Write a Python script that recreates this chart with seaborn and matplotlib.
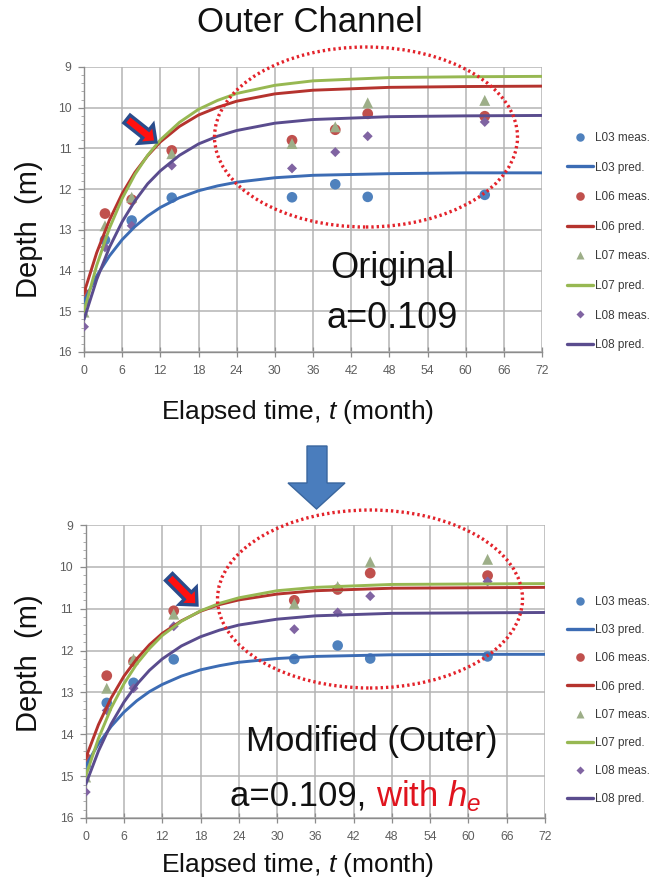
import matplotlib
matplotlib.use("Agg")
import matplotlib.pyplot as plt
from matplotlib.patches import Ellipse, Polygon
from matplotlib.lines import Line2D
from matplotlib.ticker import MultipleLocator
import numpy as np
import seaborn as sns

# ---- measured depths (m) at the four stations, shared by both panels ----
T_MEAS = [0, 3.3, 7.5, 13.8, 32.7, 39.5, 44.6, 63.0]
L03_MEAS = [14.75, 13.25, 12.77, 12.21, 12.20, 11.88, 12.19, 12.14]
L06_MEAS = [14.57, 12.60, 12.26, 11.05, 10.80, 10.54, 10.15, 10.21]
L07_MEAS = [15.02, 12.90, 12.20, 11.13, 10.88, 10.47, 9.88, 9.82]
L08_MEAS = [15.38, 13.43, 12.90, 11.42, 11.49, 11.09, 10.70, 10.35]

# ---- predicted depth curves (m) ----
T_PRED = [0, 2, 4, 6, 8, 10, 12, 15, 18, 21, 24, 30, 36, 48, 60, 72]

ORIG_L03 = [14.75, 14.13, 13.64, 13.24, 12.92, 12.66, 12.45, 12.21, 12.04, 11.92, 11.83, 11.72, 11.66, 11.62, 11.60, 11.60]
ORIG_L06 = [14.55, 13.56, 12.76, 12.11, 11.59, 11.18, 10.84, 10.46, 10.18, 9.99, 9.84, 9.66, 9.57, 9.50, 9.48, 9.47]
ORIG_L07 = [15.00, 13.87, 12.96, 12.23, 11.64, 11.17, 10.79, 10.36, 10.04, 9.82, 9.65, 9.45, 9.34, 9.26, 9.24, 9.23]
ORIG_L08 = [15.20, 14.22, 13.43, 12.80, 12.29, 11.87, 11.55, 11.17, 10.89, 10.70, 10.56, 10.38, 10.29, 10.22, 10.20, 10.19]

MOD_L03 = [14.75, 14.23, 13.81, 13.47, 13.20, 12.98, 12.81, 12.61, 12.46, 12.36, 12.28, 12.19, 12.14, 12.10, 12.09, 12.09]
MOD_L06 = [14.57, 13.77, 13.13, 12.61, 12.20, 11.86, 11.59, 11.29, 11.06, 10.90, 10.79, 10.65, 10.57, 10.51, 10.50, 10.49]
MOD_L07 = [15.00, 14.10, 13.37, 12.79, 12.32, 11.95, 11.64, 11.30, 11.05, 10.87, 10.74, 10.57, 10.49, 10.42, 10.41, 10.40]
MOD_L08 = [15.20, 14.40, 13.75, 13.23, 12.81, 12.47, 12.20, 11.89, 11.67, 11.51, 11.39, 11.25, 11.17, 11.11, 11.10, 11.09]

STATIONS = ["L03", "L06", "L07", "L08"]
X_TICKS = list(range(0, 73, 6))
Y_TICKS = list(range(9, 17))

MEAS = {"L03": L03_MEAS, "L06": L06_MEAS, "L07": L07_MEAS, "L08": L08_MEAS}
ORIG = {"L03": ORIG_L03, "L06": ORIG_L06, "L07": ORIG_L07, "L08": ORIG_L08}
MOD = {"L03": MOD_L03, "L06": MOD_L06, "L07": MOD_L07, "L08": MOD_L08}

MEAS_STYLE = {
    "L03": ("o", "#4F81BD", 58),
    "L06": ("o", "#C0504D", 60),
    "L07": ("^", "#9DAE88", 62),
    "L08": ("D", "#8064A2", 26),
}
PRED_COLOR = {"L03": "#3C6CB4", "L06": "#B5332E", "L07": "#97B852", "L08": "#5A4C8E"}

sns.set_theme(style="white")
plt.rcParams["font.family"] = ["Liberation Sans", "DejaVu Sans"]
plt.rcParams["mathtext.fontset"] = "custom"
plt.rcParams["mathtext.rm"] = "Liberation Sans"
plt.rcParams["mathtext.it"] = "Liberation Sans:italic"

W, H = 656, 886
fig = plt.figure(figsize=(W / 100, H / 100), dpi=100)
fig.patch.set_facecolor("white")

NARROW = ["Liberation Sans Narrow", "Liberation Sans", "DejaVu Sans"]


def fx(x):
    return x / W


def fy(y):
    return 1 - y / H


def draw_panel(rect, preds, legend_top, spacing):
    ax = fig.add_axes(rect)
    for st in STATIONS:
        marker, col, size = MEAS_STYLE[st]
        sns.scatterplot(x=T_MEAS, y=MEAS[st], marker=marker, s=size, color=col,
                        edgecolor="none", ax=ax, zorder=3, legend=False)
        sns.lineplot(x=T_PRED, y=preds[st], color=PRED_COLOR[st], lw=2.1,
                     ax=ax, zorder=4, legend=False)
    ax.set_xlim(0, 72)
    ax.set_ylim(16, 9)
    ax.set_xticks(X_TICKS)
    ax.set_yticks(Y_TICKS)
    ax.yaxis.set_minor_locator(MultipleLocator(0.2))
    ax.grid(True, which="major", color="#B4B4B4", lw=1.1)
    ax.set_axisbelow(True)
    for s in ["top", "right"]:
        ax.spines[s].set_visible(False)
    for s in ["left", "bottom"]:
        ax.spines[s].set_color("#8C8C8C")
        ax.spines[s].set_linewidth(1.0)
    ax.tick_params(axis="x", which="major", direction="inout", length=7,
                   width=0.9, color="#8C8C8C", labelsize=8.8,
                   labelcolor="#5E5E5E", pad=6, bottom=True)
    ax.tick_params(axis="y", which="major", direction="out", length=4,
                   width=0.9, color="#8C8C8C", labelsize=8.8,
                   labelcolor="#5E5E5E", pad=5, left=True)
    ax.tick_params(axis="y", which="minor", direction="out", length=2,
                   width=0.6, color="#A0A0A0", left=True)
    for lbl in ax.get_xticklabels() + ax.get_yticklabels():
        lbl.set_fontfamily(NARROW)
    ax.set_xlabel("")
    ax.set_ylabel("")

    handles = []
    labels = []
    for st in STATIONS:
        marker, col, size = MEAS_STYLE[st]
        handles.append(Line2D([], [], ls="none", marker=marker, color=col,
                              markersize=np.sqrt(size) * 0.8, markeredgecolor="none"))
        labels.append(f"{st} meas.")
        handles.append(Line2D([], [], color=PRED_COLOR[st], lw=2.4))
        labels.append(f"{st} pred.")
    leg = fig.legend(handles, labels, loc="upper left",
                     bbox_to_anchor=(fx(567), fy(legend_top)),
                     frameon=False, borderpad=0, borderaxespad=0,
                     handlelength=2.2, handletextpad=0.2, labelspacing=spacing,
                     prop={"family": NARROW, "size": 8.5})
    for t in leg.get_texts():
        t.set_color("#3A3A3A")
    return ax


ax_top = draw_panel([fx(84), fy(352), fx(542) - fx(84), fy(67) - fy(352)], ORIG, 132, 1.49)
ax_bot = draw_panel([fx(85.7), fy(818), fx(545) - fx(85.7), fy(525) - fy(818)], MOD, 596, 1.37)


def block_arrow(tail, tip, shaft_w, head_w, head_len, face, edge, lw):
    tail = np.array(tail, float)
    tip = np.array(tip, float)
    d = tip - tail
    L = np.linalg.norm(d)
    u = d / L
    n = np.array([-u[1], u[0]])
    base = tip - u * head_len
    pts = [tail + n * shaft_w / 2, base + n * shaft_w / 2, base + n * head_w / 2, tip,
           base - n * head_w / 2, base - n * shaft_w / 2, tail - n * shaft_w / 2]
    verts = [(fx(p[0]), fy(p[1])) for p in pts]
    fig.patches.append(Polygon(verts, closed=True, facecolor=face, edgecolor=edge,
                               lw=lw, transform=fig.transFigure, zorder=10,
                               joinstyle="miter"))


# dotted ellipses around the long-term region
for cx, cy, ew, eh in [(366, 137, 303, 180), (370, 599, 305, 178)]:
    fig.patches.append(Ellipse((fx(cx), fy(cy)), ew / W, eh / H, fill=False,
                               edgecolor="#E3232B", lw=2.4, ls=(0, (0.7, 0.9)),
                               transform=fig.transFigure, zorder=9))

# small pointer arrows
block_arrow((127, 119), (156, 142), 10, 24, 13, "#FF1010", "#2A4C8C", 2.4)
block_arrow((169, 577), (197, 605), 10, 24, 13, "#FF1010", "#2A4C8C", 2.4)

# big arrow between panels
big = [(307, 446), (327, 446), (327, 483), (345, 483), (316.5, 509), (288, 483), (307, 483)]
fig.patches.append(Polygon([(fx(x), fy(y)) for x, y in big], closed=True,
                           facecolor="#4A7DBD", edgecolor="#3A669E", lw=1.0,
                           transform=fig.transFigure, zorder=10))

# titles, axis labels and annotations
fig.text(fx(310), fy(22), "Outer Channel", ha="center", va="center", fontsize=25, color="#111111")
for yc in (229, 663):
    fig.text(fx(29), fy(yc), "Depth  (m)", ha="center", va="center", rotation=90,
             fontsize=21, color="#111111")
for yc in (412, 865):
    fig.text(fx(298), fy(yc), "Elapsed time, $t$ (month)", ha="center", va="center",
             fontsize=19, color="#111111")

fig.text(fx(392), fy(268), "Original", ha="center", va="center", fontsize=26, color="#111111")
fig.text(fx(392), fy(318), "a=0.109", ha="center", va="center", fontsize=26, color="#111111")
fig.text(fx(372), fy(742), "Modified (Outer)", ha="center", va="center", fontsize=25, color="#111111")

t1 = fig.text(fx(230), fy(806), "a=0.109, ", ha="left", va="baseline", fontsize=25, color="#111111")
fig.canvas.draw()
bb = t1.get_window_extent()
fig.text(bb.x1 / W, fy(806), "with $h_e$", ha="left", va="baseline", fontsize=25, color="#E0141E")

fig.savefig("out.png", dpi=100, facecolor="white")
